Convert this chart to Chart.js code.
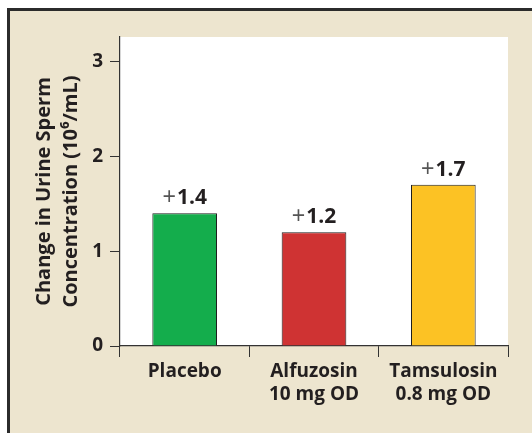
<!DOCTYPE html>
<html>
<head>
<meta charset="utf-8">
<script src="https://cdn.jsdelivr.net/npm/chart.js@4/dist/chart.umd.min.js"></script>
<style>
  html, body { margin: 0; padding: 0; background: #ffffff; }
  #wrap { width: 532px; height: 433px; position: relative; }
</style>
</head>
<body>
<div id="wrap"><canvas id="c" width="532" height="433"></canvas></div>
<script>
const categories = [["Placebo"], ["Alfuzosin", "10 mg OD"], ["Tamsulosin", "0.8 mg OD"]];
const values = [1.4, 1.2, 1.7];
const valueLabels = ["1.4", "1.2", "1.7"];
const barColors = ["#14ad4c", "#cf3333", "#fcc224"];
const yTicks = [0, 1, 2, 3];
const yTitle = ["Change in Urine Sperm", "Concentration (10\u2076/mL)"];

const FONT = "'Open Sans', 'Noto Sans', sans-serif";
const TEXT = "#231f20";
const AXIS = "#333333";

const framePlugin = {
  id: 'frame',
  beforeDraw(chart) {
    const ctx = chart.ctx;
    const W = chart.width, H = chart.height;
    ctx.save();
    ctx.fillStyle = '#ffffff';
    ctx.fillRect(0, 0, W, H);
    ctx.fillStyle = '#ede5cf';
    ctx.fillRect(10, 11, W - 10, H - 11);
    ctx.fillStyle = '#2b2b2b';
    ctx.fillRect(7, 8, W - 7, 3);
    ctx.fillRect(7, 8, 3, H - 8);
    const a = chart.chartArea;
    ctx.fillStyle = '#ffffff';
    ctx.fillRect(a.left, a.top, a.right - a.left, a.bottom - a.top);
    ctx.restore();
  }
};

const valuePlugin = {
  id: 'values',
  afterDatasetsDraw(chart) {
    const ctx = chart.ctx;
    const meta = chart.getDatasetMeta(0);
    ctx.save();
    ctx.textBaseline = 'alphabetic';
    ctx.textAlign = 'left';
    meta.data.forEach((bar, i) => {
      const plusFont = "400 23px 'Liberation Sans', sans-serif";
      const numFont = "700 21px " + FONT;
      ctx.font = plusFont;
      const wp = ctx.measureText("+").width + 1;
      ctx.font = numFont;
      const wn = ctx.measureText(valueLabels[i]).width;
      const total = wp + wn;
      const x0 = bar.x - total / 2;
      const y = bar.y - 9;
      ctx.font = plusFont;
      ctx.fillStyle = "#555555";
      ctx.fillText("+", x0, y);
      ctx.font = numFont;
      ctx.fillStyle = TEXT;
      ctx.fillText(valueLabels[i], x0 + wp, y);
    });
    ctx.restore();
  }
};

new Chart(document.getElementById('c'), {
  type: 'bar',
  data: {
    labels: categories,
    datasets: [{
      data: values,
      backgroundColor: barColors,
      borderColor: '#1e1e1e',
      borderWidth: 1,
      barPercentage: 0.5,
      categoryPercentage: 1.0
    }]
  },
  options: {
    responsive: false,
    animation: false,
    events: [],
    layout: { padding: { left: 0, right: 24, top: 37, bottom: 0 } },
    plugins: { legend: { display: false }, tooltip: { enabled: false } },
    scales: {
      x: {
        offset: true,
        grid: { display: true, drawOnChartArea: false, drawTicks: true, tickLength: 11, color: AXIS, lineWidth: 1, offset: true },
        border: { display: true, color: AXIS, width: 1.2 },
        ticks: { color: TEXT, font: { family: FONT, size: 19, weight: '700', lineHeight: 1.2 }, padding: 3, maxRotation: 0, autoSkip: false },
        afterFit(scale) { scale.height = 87; }
      },
      y: {
        min: 0,
        max: 3.26,
        afterBuildTicks(scale) { scale.ticks = yTicks.map(v => ({ value: v })); },
        grid: { display: true, drawOnChartArea: false, drawTicks: true, tickLength: 10, color: AXIS, lineWidth: 1 },
        border: { display: true, color: AXIS, width: 1.2 },
        ticks: { color: TEXT, font: { family: FONT, size: 19, weight: '700' }, padding: 7 },
        title: {
          display: true,
          text: yTitle,
          color: TEXT,
          font: { family: FONT, size: 20, weight: '700', lineHeight: 1.35 },
          padding: { top: 31, bottom: 0 }
        },
        afterFit(scale) { scale.width = 120; }
      }
    }
  },
  plugins: [framePlugin, valuePlugin]
});
</script>
</body>
</html>
